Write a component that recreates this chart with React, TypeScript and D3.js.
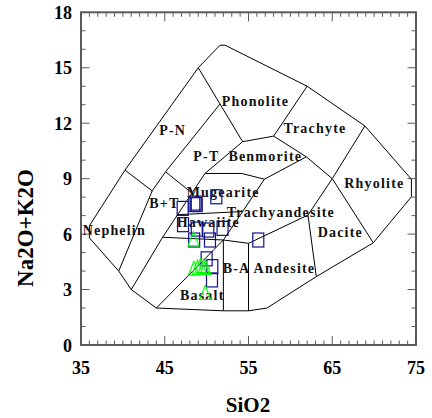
import React from "react";
import * as d3 from "d3";

type P = [number, number];

// Axis ticks
const X_TICKS = [35, 45, 55, 65, 75];
const Y_TICKS = [0, 3, 6, 9, 12, 15, 18];

// Outer boundary of the TAS field (SiO2, Na2O+K2O)
const outerBoundary: P[] = [
  [44, 2], [41, 3], [39.5, 4.0], [36, 5.8], [36, 6.45], [40.25, 9.46], [49, 15],
  [51.6, 16.22], [52.2, 16.22], [62, 14], [68.9, 11.85], [74.45, 8.97], [74.45, 8.02],
  [69.9, 5.53], [63.1, 3.7], [57.2, 2.0], [55, 1.85], [52, 1.85], [44, 2],
];

// Internal field boundaries
const fieldLines: P[][] = [
  [[40.25, 9.46], [43.5, 8.34], [39.5, 4.0]],
  [[51.6, 13.04], [45.1, 9.37], [43.5, 8.34]],
  [[45.1, 9.37], [48.25, 8.22]],
  [[49, 15], [54.3, 11.0]],
  [[54.3, 11.0], [58, 11.3], [62, 14]],
  [[58, 11.3], [61.9, 10.18], [65, 9.0], [68.9, 11.85]],
  [[54.3, 11.0], [49.8, 9.28], [44.75, 5.83], [41, 3]],
  [[49.8, 9.28], [54.2, 9.28], [56.9, 8.97], [61.9, 10.18]],
  [[65, 9.0], [62.1, 7.03], [63.1, 3.7]],
  [[65, 9.0], [69.9, 5.53]],
  [[44, 2], [52, 5.68], [56.9, 8.97]],
  [[46.54, 7.05], [54.3, 7.22]],
  [[44.75, 5.83], [52, 5.68], [55, 5.5], [62.1, 7.03]],
  [[52, 5.68], [52, 1.85]],
  [[55, 5.5], [55, 1.85]],
];

// Field labels: name, SiO2 (left edge), Na2O+K2O (baseline)
const labelNames = ["P-N", "P-T", "Benmorite", "Phonolite", "Trachyte", "Rhyolite", "Mugearite", "B+T", "Hawaiite", "Trachyandesite", "Nephelin", "Dacite", "B-A Andesite", "Basalt"];
const labelX = [44.34, 48.41, 52.6, 51.8, 59.17, 66.44, 47.62, 43.16, 46.43, 52.4, 35.2, 63.26, 51.92, 46.82];
const labelY = [11.35, 9.93, 9.93, 12.95, 11.48, 8.5, 8.0, 7.39, 6.41, 6.94, 5.93, 5.85, 3.88, 2.43];

// Sample series 1 (blue squares)
const squareSiO2 = [47.14, 48.53, 48.70, 48.82, 51.16, 47.18, 48.82, 50.2, 51.9, 48.51, 50.4, 56.17, 50.0, 50.68, 50.64];
const squareAlk = [7.39, 7.60, 7.68, 7.60, 8.02, 6.51, 6.27, 6.22, 6.31, 5.68, 5.68, 5.68, 4.66, 4.24, 3.52];

// Sample series 2 (green triangles)
const triSiO2 = [48.43, 48.47, 48.91, 49.27, 49.63, 49.87, 49.84];
const triAlk = [5.74, 4.15, 4.2, 4.3, 4.25, 4.2, 2.84];

const W = 432;
const H = 418;
const FONT = "Times New Roman, Liberation Serif, Times, serif";

export default function App() {
  const x = d3.scaleLinear().domain([35, 75]).range([81, 416]);
  const y = d3.scaleLinear().domain([0, 18]).range([345, 12.3]);
  const line = d3.line<P>().x((d) => x(d[0])).y((d) => y(d[1]));

  const xMinor = d3.range(35, 76, 1);
  const yMinor = d3.range(0, 19, 1);
  const axisColor = "#5a5a5a";

  const [x0, x1] = x.range();
  const [y0, y1] = y.range();

  return (
    <svg width={W} height={H} style={{ position: "absolute", left: 0, top: 0, background: "#fff" }}>
      {/* ticks */}
      <g stroke={axisColor} strokeWidth={1}>
        {xMinor.map((v) => {
          const len = X_TICKS.includes(v) ? 9 : 4.5;
          return (
            <g key={"xt" + v}>
              <line x1={x(v)} x2={x(v)} y1={y0} y2={y0 - len} />
              <line x1={x(v)} x2={x(v)} y1={y1} y2={y1 + len} />
            </g>
          );
        })}
        {yMinor.map((v) => {
          const len = Y_TICKS.includes(v) ? 8.5 : 4.5;
          return (
            <g key={"yt" + v}>
              <line x1={x0} x2={x0 + len} y1={y(v)} y2={y(v)} />
              <line x1={x1} x2={x1 - len} y1={y(v)} y2={y(v)} />
            </g>
          );
        })}
      </g>
      {/* frame */}
      <rect x={x0} y={y1} width={x1 - x0} height={y0 - y1} fill="none" stroke={axisColor} strokeWidth={2} />

      {/* field boundaries */}
      <path d={line(outerBoundary) || ""} fill="none" stroke="#000" strokeWidth={1} />
      {fieldLines.map((pts, i) => (
        <path key={"f" + i} d={line(pts) || ""} fill="none" stroke="#000" strokeWidth={1} />
      ))}

      {/* field labels */}
      <g fontFamily={FONT} fontWeight="bold" fontSize={14} fill="#111" style={{ letterSpacing: "1.2px" }}>
        {labelNames.map((n, i) => (
          <text key={"l" + i} x={x(labelX[i])} y={y(labelY[i])}>
            {n}
          </text>
        ))}
      </g>

      {/* squares */}
      <g fill="none" stroke="#10108a" strokeWidth={1.2}>
        {squareSiO2.map((v, i) => (
          <rect key={"s" + i} x={x(v) - 5.5} y={y(squareAlk[i]) - 7} width={11} height={14} />
        ))}
      </g>
      {/* triangles */}
      <g fill="none" stroke="#00ff00" strokeWidth={1.1}>
        {triSiO2.map((v, i) => {
          const cx = x(v);
          const cy = y(triAlk[i]);
          return (
            <path key={"t" + i} d={`M${cx},${cy - 7} L${cx + 5.5},${cy + 7} L${cx - 5.5},${cy + 7} Z`} />
          );
        })}
      </g>

      {/* tick labels */}
      <g fontFamily={FONT} fontWeight="bold" fontSize={18} fill="#000">
        {X_TICKS.map((v) => (
          <text key={"xl" + v} x={x(v)} y={374} textAnchor="middle">
            {v}
          </text>
        ))}
        {Y_TICKS.map((v) => (
          <text key={"yl" + v} x={72} y={y(v) + 6.5} textAnchor="end">
            {v}
          </text>
        ))}
      </g>

      {/* axis titles */}
      <text x={248} y={412} textAnchor="middle" fontFamily={FONT} fontWeight="bold" fontSize={21}>
        SiO2
      </text>
      <text
        transform={`translate(33, 228) rotate(-90)`}
        textAnchor="middle"
        fontFamily={FONT}
        fontWeight="bold"
        fontSize={23}
      >
        Na2O+K2O
      </text>
    </svg>
  );
}
